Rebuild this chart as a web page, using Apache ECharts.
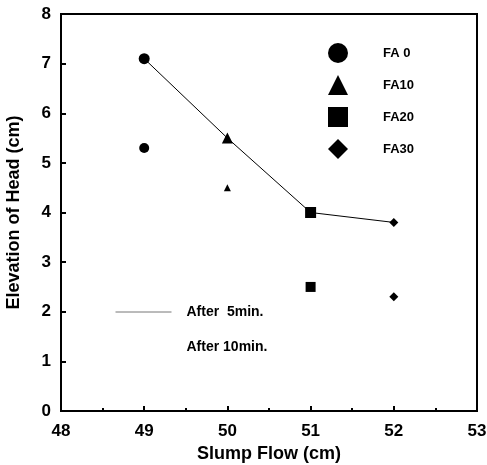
<!DOCTYPE html>
<html>
<head>
<meta charset="utf-8">
<script src="https://cdn.jsdelivr.net/npm/echarts@6/dist/echarts.min.js"></script>
<style>
  html, body { margin: 0; padding: 0; background: #fff; }
  #chart { width: 487px; height: 465px; }
</style>
</head>
<body>
<div id="chart"></div>
<script>
// data
var slumpFlow = [49, 50, 51, 52];
var after5 = [7.1, 5.5, 4.0, 3.8];
var after10 = [5.3, 4.5, 2.5, 2.3];
var groups = ['FA 0', 'FA10', 'FA20', 'FA30'];
var lineNames = ['After  5min.', 'After 10min.'];

// marker looks
var shapes = ['circle', 'triangle', 'rect', 'diamond'];
var size5 = [11, 11, 11, 9];
var size10 = [10, 7, 10, 9];

var font = 'Liberation Sans';
var myChart = echarts.init(document.getElementById('chart'));

var series = [
    {
        name: lineNames[0],
        type: 'line',
        symbol: 'none',
        z: 1,
        lineStyle: { color: '#000', width: 1 },
        data: slumpFlow.map(function (x, i) { return [x, after5[i]]; })
    },
    {
        name: lineNames[1],
        type: 'line',
        symbol: 'none',
        lineStyle: { color: 'transparent' },
        data: []
    }
];
groups.forEach(function (g, i) {
    series.push({
        name: g,
        type: 'scatter',
        symbol: shapes[i],
        z: 3,
        itemStyle: { color: '#000', opacity: 1 },
        data: [
            { value: [slumpFlow[i], after5[i]], symbolSize: size5[i] },
            { value: [slumpFlow[i], after10[i]], symbolSize: size10[i] }
        ]
    });
});

var option = {
    animation: false,
    backgroundColor: '#fff',
    grid: {
        left: 61, top: 14, right: 10, bottom: 54,
        outerBoundsMode: 'none',
        show: true, borderColor: '#000', borderWidth: 2
    },
    legend: [
        {
            data: groups.map(function (g, i) { return { name: g, icon: shapes[i] }; }),
            orient: 'vertical',
            left: 323,
            top: 38,
            itemWidth: 20,
            itemHeight: 20,
            itemGap: 12,
            selectedMode: false,
            itemStyle: { color: '#000', opacity: 1 },
            textStyle: { fontFamily: font, fontWeight: 'bold', fontSize: 13, color: '#000', padding: [0, 0, 0, 30] }
        },
        {
            data: [
                { name: lineNames[0] },
                { name: lineNames[1], lineStyle: { opacity: 0 } }
            ],
            orient: 'vertical',
            left: 110,
            top: 300,
            itemWidth: 56,
            itemHeight: 14,
            itemGap: 21,
            selectedMode: false,
            itemStyle: { opacity: 0 },
            lineStyle: { color: '#777', width: 1 },
            textStyle: { fontFamily: font, fontWeight: 'bold', fontSize: 14, color: '#000', padding: [0, 0, 0, 10] }
        }
    ],
    xAxis: {
        type: 'value',
        min: 48,
        max: 53,
        interval: 1,
        name: 'Slump Flow (cm)',
        nameLocation: 'middle',
        nameGap: 28,
        nameTextStyle: { fontFamily: font, fontWeight: 'bold', fontSize: 18, color: '#000' },
        axisLine: { lineStyle: { color: '#000', width: 2 } },
        axisTick: { inside: true, length: 5, lineStyle: { color: '#000', width: 2 } },
        minorTick: { show: true, splitNumber: 2, length: 3, lineStyle: { color: '#000', width: 2 } },
        axisLabel: { fontFamily: font, fontWeight: 'bold', fontSize: 17, color: '#000', margin: 12 },
        splitLine: { show: false }
    },
    yAxis: {
        type: 'value',
        min: 0,
        max: 8,
        interval: 1,
        name: 'Elevation of Head (cm)',
        nameLocation: 'middle',
        nameGap: 38,
        nameTextStyle: { fontFamily: font, fontWeight: 'bold', fontSize: 18, color: '#000' },
        axisLine: { lineStyle: { color: '#000', width: 2 } },
        axisTick: { inside: true, length: 5, lineStyle: { color: '#000', width: 2 } },
        axisLabel: { fontFamily: font, fontWeight: 'bold', fontSize: 17, color: '#000', margin: 10 },
        splitLine: { show: false }
    },
    series: series
};
myChart.setOption(option);
</script>
</body>
</html>
